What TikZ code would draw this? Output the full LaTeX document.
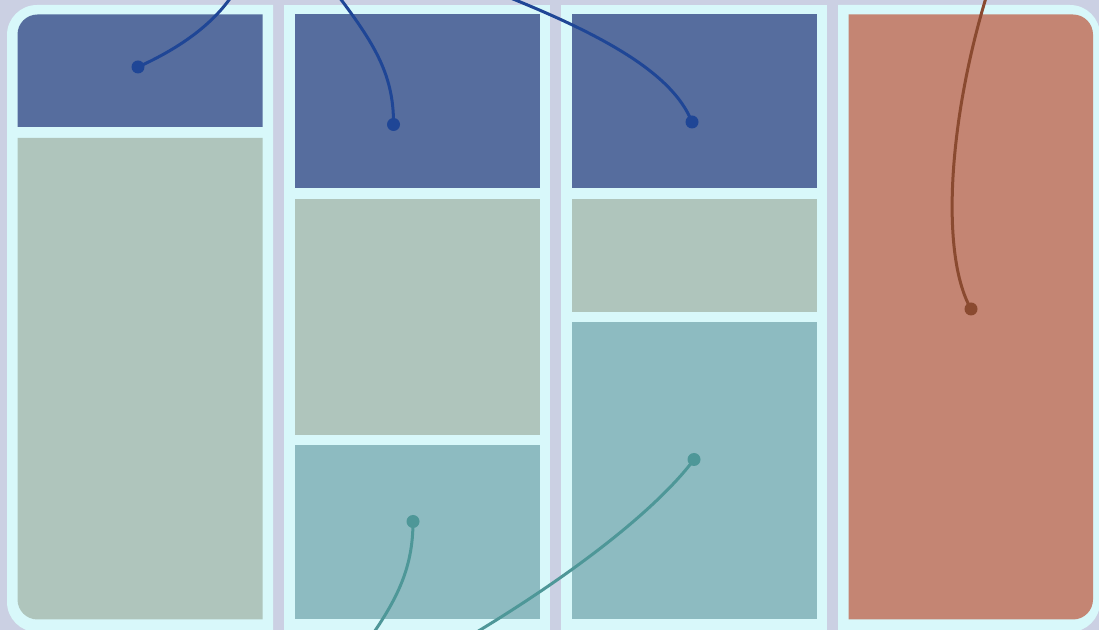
\documentclass[tikz,border=0pt]{standalone}
\definecolor{bg}{HTML}{CBD0E3}
\definecolor{rim}{HTML}{D8F8FA}
\definecolor{cblue}{HTML}{566D9E}
\definecolor{csage}{HTML}{AFC5BC}
\definecolor{cteal}{HTML}{8DBBC1}
\definecolor{csalmon}{HTML}{C48573}
\definecolor{lblue}{HTML}{1F4696}
\definecolor{lteal}{HTML}{4E9798}
\definecolor{lbrown}{HTML}{8A4A30}
\begin{document}
\begin{tikzpicture}[x=0.5pt,y=-0.5pt,
  dotnode/.style={circle, inner sep=0pt, minimum size=6.5pt},
  link/.style={line width=1.5pt},
  outerr/.style={rounded corners=15pt},
  innerr/.style={rounded corners=10pt}]
\useasboundingbox (0,0) rectangle (1099,630);
\clip (0,0) rectangle (1099,630);
\fill[bg] (0,0) rectangle (1099,630);
% column rims
\fill[rim] (140,5) [outerr] -- (7,5) -- (7,632) [sharp corners] -- (140,632) -- (273,632) -- (273,5) -- cycle;
\fill[rim] (284,5) rectangle (550,632);
\fill[rim] (561,5) rectangle (827,632);
\fill[rim] (950,5) [outerr] -- (1100,5) -- (1100,632) -- (950,632) [sharp corners] -- (838,632) -- (838,5) -- cycle;
% column 1
\fill[cblue] (140,14.5) [innerr] -- (17.5,14.5) -- (17.5,70) [sharp corners] -- (17.5,127) -- (262.5,127) -- (262.5,14.5) -- cycle;
\fill[csage] (140,619.5) [innerr] -- (17.5,619.5) -- (17.5,400) [sharp corners] -- (17.5,138) -- (262.5,138) -- (262.5,619.5) -- cycle;
% column 2
\fill[cblue] (294.5,14.5) rectangle (539.5,188.5);
\fill[csage] (294.5,199.5) rectangle (539.5,435);
\fill[cteal] (294.5,445.5) rectangle (539.5,619.5);
% column 3
\fill[cblue] (571.5,14.5) rectangle (816.5,188.5);
\fill[csage] (571.5,199.5) rectangle (816.5,312);
\fill[cteal] (571.5,322.5) rectangle (816.5,619.5);
% column 4
\fill[csalmon] (960,14.5) [innerr] -- (1093,14.5) -- (1093,619.5) -- (960,619.5) [sharp corners] -- (848.5,619.5) -- (848.5,14.5) -- cycle;
% dots
\node[dotnode, fill=lblue] (d1) at (138,67) {};
\node[dotnode, fill=lblue] (d2) at (393.5,124.5) {};
\node[dotnode, fill=lblue] (d3) at (692,122) {};
\node[dotnode, fill=lbrown] (d4) at (971,309) {};
\node[dotnode, fill=lteal] (d5) at (413,521.5) {};
\node[dotnode, fill=lteal] (d6) at (694,459.5) {};
% free ends
\coordinate (e1) at (238,-14);
\coordinate (e2) at (330,-15);
\coordinate (e3) at (480,-14);
\coordinate (e4) at (989,-12);
\coordinate (e5) at (363,648);
\coordinate (e6) at (450,648);
% connectors
\draw[link, lblue] (d1.center) .. controls (180,48) and (218,22) .. (e1);
\draw[link, lblue] (d2.center) .. controls (394,72) and (372,40) .. (e2);
\draw[link, lblue] (d3.center) .. controls (672,72) and (600,32) .. (e3);
\draw[link, lbrown] (d4.center) .. controls (940,255) and (948,118) .. (e4);
\draw[link, lteal] (d5.center) .. controls (413,570) and (396,602) .. (e5);
\draw[link, lteal] (d6.center) .. controls (660,505) and (580,572) .. (e6);
\end{tikzpicture}
\end{document}
